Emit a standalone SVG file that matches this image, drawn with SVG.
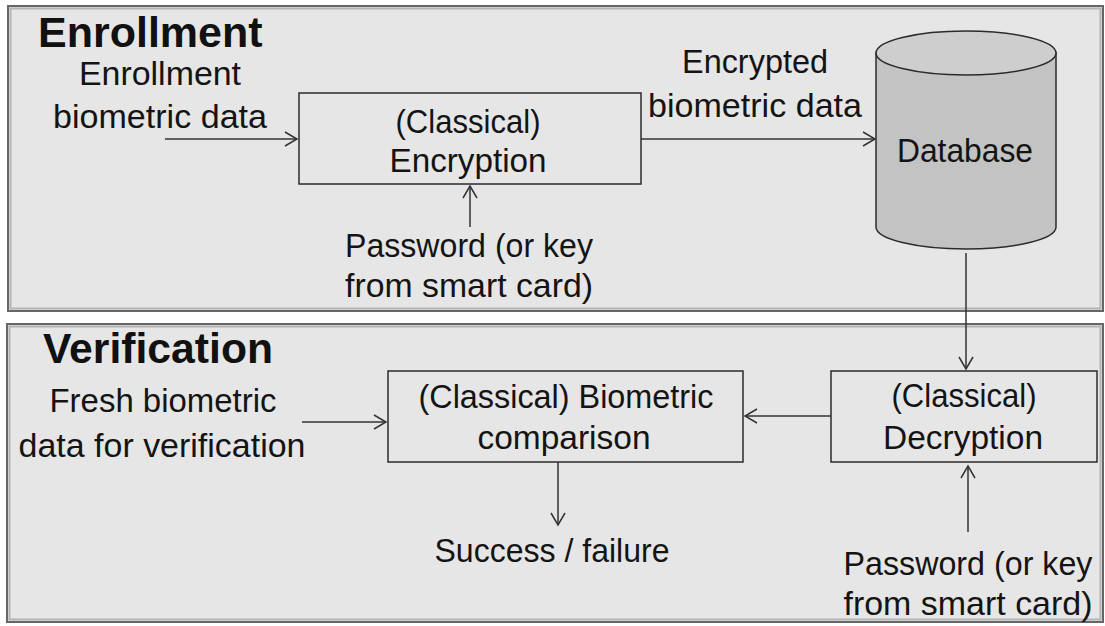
<svg xmlns="http://www.w3.org/2000/svg" width="1105" height="626" viewBox="0 0 1105 626">
<defs>
<marker id="arr" markerUnits="userSpaceOnUse" markerWidth="20" markerHeight="20" refX="0" refY="0" viewBox="-14 -10 16 20" orient="auto">
<path d="M-12,-7 L0,0 L-12,7" fill="none" stroke="#333" stroke-width="1.5"/>
</marker>
</defs>
<style>
.panel{fill:#e6e6e6;stroke:#666;stroke-width:2}
.shadow{fill:none;stroke:#b4b4b4;stroke-width:2}
.box{fill:none;stroke:#2b2b2b;stroke-width:1.5}
.t{font-family:"Liberation Sans",Arial,sans-serif;font-size:33px;fill:#141414;text-anchor:middle}
.title{font-family:"Liberation Sans",Arial,sans-serif;font-size:43px;font-weight:bold;fill:#111}
.c{fill:none;stroke:#333;stroke-width:1.5;marker-end:url(#arr)}
</style>
<rect width="1105" height="626" fill="#ffffff"/>
<g id="enrollment-panel">
<rect class="panel" x="8" y="6" width="1095" height="305"/>
<rect class="shadow" x="10.5" y="8.5" width="1090" height="300"/>
<text class="title" x="38" y="47">Enrollment</text>
</g>
<g id="verification-panel">
<rect class="panel" x="7" y="324" width="1096" height="298"/>
<rect class="shadow" x="9.5" y="326.5" width="1091" height="293"/>
<text class="title" x="43" y="363" textLength="230" lengthAdjust="spacingAndGlyphs">Verification</text>
</g>
<g id="enroll-input">
<text class="t" x="160" y="85" textLength="162" lengthAdjust="spacingAndGlyphs">Enrollment</text>
<text class="t" x="160" y="128" textLength="214" lengthAdjust="spacingAndGlyphs">biometric data</text>
</g>
<g id="encryption">
<rect class="box" x="299" y="93" width="342" height="91"/>
<text class="t" x="468" y="133" textLength="145" lengthAdjust="spacingAndGlyphs">(Classical)</text>
<text class="t" x="468" y="172" textLength="157" lengthAdjust="spacingAndGlyphs">Encryption</text>
</g>
<g id="password-enroll">
<text class="t" x="469" y="257" textLength="248" lengthAdjust="spacingAndGlyphs">Password (or key</text>
<text class="t" x="469" y="297" textLength="248" lengthAdjust="spacingAndGlyphs">from smart card)</text>
</g>
<g id="encrypted-label">
<text class="t" x="755" y="73" textLength="146" lengthAdjust="spacingAndGlyphs">Encrypted</text>
<text class="t" x="755" y="117" textLength="214" lengthAdjust="spacingAndGlyphs">biometric data</text>
</g>
<g id="database">
<path d="M876,53 L876,227 A90,22 0 0 0 1056,227 L1056,53 Z" fill="#c3c3c3" stroke="#2b2b2b" stroke-width="1.5"/>
<ellipse cx="966" cy="53" rx="90" ry="22" fill="#cecece" stroke="#2b2b2b" stroke-width="1.5"/>
<text class="t" x="965" y="162" textLength="136" lengthAdjust="spacingAndGlyphs">Database</text>
</g>
<g id="fresh-input">
<text class="t" x="163" y="412" textLength="227" lengthAdjust="spacingAndGlyphs">Fresh biometric</text>
<text class="t" x="162" y="457" textLength="287" lengthAdjust="spacingAndGlyphs">data for verification</text>
</g>
<g id="comparison">
<rect class="box" x="388" y="371" width="355" height="91"/>
<text class="t" x="566" y="408" textLength="295" lengthAdjust="spacingAndGlyphs">(Classical) Biometric</text>
<text class="t" x="564" y="449" textLength="173" lengthAdjust="spacingAndGlyphs">comparison</text>
</g>
<g id="result">
<text class="t" x="552" y="562" textLength="235" lengthAdjust="spacingAndGlyphs">Success / failure</text>
</g>
<g id="decryption">
<rect class="box" x="831" y="371" width="266" height="91"/>
<text class="t" x="964" y="407" textLength="145" lengthAdjust="spacingAndGlyphs">(Classical)</text>
<text class="t" x="963" y="449" textLength="160" lengthAdjust="spacingAndGlyphs">Decryption</text>
</g>
<g id="password-verify">
<text class="t" x="968" y="575" textLength="249" lengthAdjust="spacingAndGlyphs">Password (or key</text>
<text class="t" x="968" y="615" textLength="249" lengthAdjust="spacingAndGlyphs">from smart card)</text>
</g>
<g id="connectors">
<line class="c" x1="165" y1="139" x2="297" y2="139"/>
<line class="c" x1="470" y1="227" x2="470" y2="186"/>
<line class="c" x1="641" y1="139" x2="875" y2="139"/>
<line class="c" x1="966" y1="253" x2="966" y2="369"/>
<line class="c" x1="831" y1="416" x2="745" y2="416"/>
<line class="c" x1="302" y1="422" x2="386" y2="422"/>
<line class="c" x1="558" y1="462" x2="558" y2="525"/>
<line class="c" x1="968" y1="532" x2="968" y2="466"/>
</g>
</svg>
